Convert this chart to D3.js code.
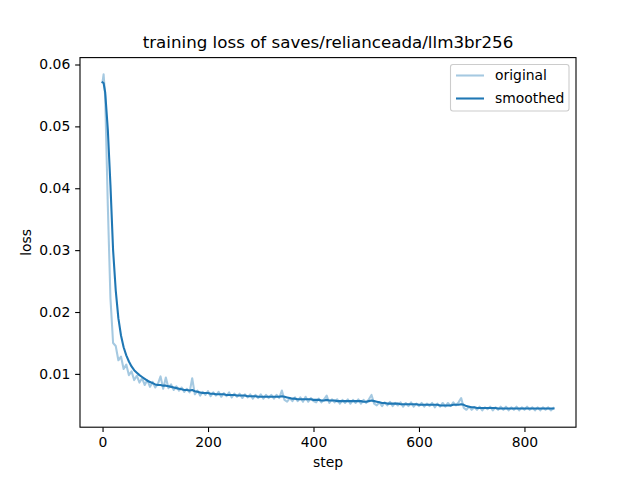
<!DOCTYPE html>
<html>
<head>
<meta charset="utf-8">
<script src="https://cdn.jsdelivr.net/npm/d3@7"></script>
<style>
  html, body { margin: 0; padding: 0; background: #fff; }
  svg { display: block; font-family: "DejaVu Sans", sans-serif; }
</style>
</head>
<body>
<svg id="chart" width="640" height="480"></svg>
<script>
// ---- data ----
const titleText = "training loss of saves/relianceada/llm3br256";
const xLabel = "step";
const yLabel = "loss";
const seriesNames = ["original", "smoothed"];
const xTicks = [0, 200, 400, 600, 800];
const yTicks = [0.01, 0.02, 0.03, 0.04, 0.05, 0.06];

const steps = [0, 2].concat(d3.range(5, 856, 5));

const original = [0.0572, 0.0584,
  0.0548, 0.0372, 0.0222, 0.0150, 0.0145, 0.0122, 0.0128, 0.0108, 0.0115, 0.0098,
  0.0104, 0.0090, 0.0097, 0.0086, 0.0093, 0.0082, 0.0090, 0.0079, 0.0087, 0.0078,
  0.0084, 0.0096, 0.0076, 0.0094, 0.0077, 0.0083, 0.0074, 0.0080, 0.0073, 0.0078,
  0.0071, 0.0076, 0.0070, 0.0093, 0.0067, 0.0073, 0.0065, 0.0071, 0.0066, 0.0072,
  0.0064, 0.0070, 0.0065, 0.0071, 0.0063, 0.0069, 0.0064, 0.0070, 0.0062, 0.0068,
  0.0063, 0.0068, 0.0061, 0.0067, 0.0062, 0.0067, 0.0060, 0.0066, 0.0061, 0.0067,
  0.0060, 0.0066, 0.0061, 0.0066, 0.0060, 0.0066, 0.0061, 0.0073, 0.0058, 0.0055,
  0.0061, 0.0056, 0.0062, 0.0056, 0.0062, 0.0055, 0.0063, 0.0055, 0.0061, 0.0056,
  0.0054, 0.0060, 0.0054, 0.0059, 0.0065, 0.0053, 0.0059, 0.0054, 0.0059, 0.0052,
  0.0058, 0.0053, 0.0059, 0.0052, 0.0058, 0.0053, 0.0059, 0.0052, 0.0058, 0.0053,
  0.0059, 0.0066, 0.0052, 0.0049, 0.0054, 0.0048, 0.0054, 0.0049, 0.0055, 0.0048,
  0.0053, 0.0049, 0.0054, 0.0047, 0.0053, 0.0048, 0.0054, 0.0047, 0.0052, 0.0048,
  0.0053, 0.0047, 0.0052, 0.0048, 0.0053, 0.0046, 0.0052, 0.0047, 0.0053, 0.0047,
  0.0053, 0.0048, 0.0054, 0.0049, 0.0054, 0.0061, 0.0045, 0.0042, 0.0047, 0.0042,
  0.0046, 0.0042, 0.0047, 0.0041, 0.0046, 0.0043, 0.0047, 0.0041, 0.0046, 0.0042,
  0.0047, 0.0042, 0.0047, 0.0041, 0.0046, 0.0042, 0.0047, 0.0041, 0.0046, 0.0042,
  0.0047, 0.0042, 0.0046, 0.0041, 0.0046, 0.0041, 0.0046, 0.0042, 0.0046, 0.0041,
  0.0045];

const smoothed = [0.0571, 0.0570,
  0.0555, 0.0495, 0.0405, 0.0300, 0.0235, 0.0190, 0.0162, 0.0143, 0.0130, 0.0120,
  0.0112, 0.0106, 0.0102, 0.0098, 0.0095, 0.0092, 0.0089, 0.0087, 0.0085, 0.0083,
  0.0082, 0.0082, 0.0081, 0.0081, 0.0080, 0.0079, 0.0078, 0.0077, 0.0076, 0.0075,
  0.0074, 0.0074, 0.0073, 0.0074, 0.0072, 0.0071, 0.0070, 0.0069, 0.0069, 0.0069,
  0.0068, 0.0068, 0.0067, 0.0067, 0.0067, 0.0067, 0.0066, 0.0066, 0.0066, 0.0066,
  0.0065, 0.0065, 0.0065, 0.0065, 0.0064, 0.0064, 0.0064, 0.0064, 0.0063, 0.0063,
  0.0063, 0.0063, 0.0063, 0.0063, 0.0063, 0.0063, 0.0063, 0.0064, 0.0063, 0.0062,
  0.0061, 0.0060, 0.0060, 0.0059, 0.0059, 0.0059, 0.0059, 0.0059, 0.0059, 0.0058,
  0.0058, 0.0058, 0.0057, 0.0057, 0.0058, 0.0057, 0.0057, 0.0057, 0.0056, 0.0056,
  0.0056, 0.0056, 0.0056, 0.0056, 0.0056, 0.0056, 0.0056, 0.0056, 0.0055, 0.0055,
  0.0056, 0.0057, 0.0056, 0.0055, 0.0054, 0.0053, 0.0053, 0.0052, 0.0052, 0.0052,
  0.0052, 0.0052, 0.0051, 0.0051, 0.0051, 0.0051, 0.0051, 0.0051, 0.0051, 0.0050,
  0.0050, 0.0050, 0.0050, 0.0050, 0.0050, 0.0050, 0.0050, 0.0049, 0.0049, 0.0049,
  0.0049, 0.0049, 0.0050, 0.0050, 0.0050, 0.0051, 0.0050, 0.0048, 0.0047, 0.0046,
  0.0046, 0.0045, 0.0045, 0.0045, 0.0045, 0.0045, 0.0045, 0.0045, 0.0045, 0.0044,
  0.0044, 0.0044, 0.0044, 0.0044, 0.0044, 0.0044, 0.0044, 0.0044, 0.0044, 0.0044,
  0.0044, 0.0044, 0.0044, 0.0044, 0.0044, 0.0044, 0.0044, 0.0044, 0.0044, 0.0044,
  0.0044];

// ---- layout ----
const W = 640, H = 480;
const m = { left: 80, right: 576, top: 57.6, bottom: 427.2 };
const color = "#1f77b4";
const tickLen = 4.86, tickPad = 4.86;

const svg = d3.select("#chart");
svg.append("rect").attr("width", W).attr("height", H).attr("fill", "#fff");

const n = Math.min(steps.length, original.length, smoothed.length);
const ptsO = d3.range(n).map(i => [steps[i], original[i]]);
const ptsS = d3.range(n).map(i => [steps[i], smoothed[i]]);

const xExt = d3.extent(steps.slice(0, n));
const xPad = (xExt[1] - xExt[0]) * 0.05;
const allY = original.slice(0, n).concat(smoothed.slice(0, n));
const yExt = d3.extent(allY);
const yPad = (yExt[1] - yExt[0]) * 0.05;

const x = d3.scaleLinear().domain([xExt[0] - xPad, xExt[1] + xPad]).range([m.left, m.right]);
const y = d3.scaleLinear().domain([yExt[0] - yPad, yExt[1] + yPad]).range([m.bottom, m.top]);

const clipId = "plotclip";
svg.append("clipPath").attr("id", clipId).append("rect")
  .attr("x", m.left).attr("y", m.top)
  .attr("width", m.right - m.left).attr("height", m.bottom - m.top);

const line = d3.line().x(d => x(d[0])).y(d => y(d[1]));
const g = svg.append("g").attr("clip-path", `url(#${clipId})`);
g.append("path").datum(ptsO).attr("d", line)
  .attr("fill", "none").attr("stroke", color).attr("stroke-opacity", 0.4)
  .attr("stroke-width", 2.08).attr("stroke-linejoin", "round").attr("stroke-linecap", "square");
g.append("path").datum(ptsS).attr("d", line)
  .attr("fill", "none").attr("stroke", color)
  .attr("stroke-width", 2.08).attr("stroke-linejoin", "round").attr("stroke-linecap", "square");

// axes
const xAxis = d3.axisBottom(x).tickValues(xTicks).tickFormat(d3.format("d"))
  .tickSizeInner(tickLen).tickSizeOuter(0).tickPadding(tickPad);
const yAxis = d3.axisLeft(y).tickValues(yTicks).tickFormat(d3.format(".2f"))
  .tickSizeInner(tickLen).tickSizeOuter(0).tickPadding(tickPad);

const gx = svg.append("g").attr("transform", `translate(0,${m.bottom})`).call(xAxis);
const gy = svg.append("g").attr("transform", `translate(${m.left},0)`).call(yAxis);
[gx, gy].forEach(a => {
  a.select(".domain").remove();
  a.selectAll(".tick line").attr("stroke", "#000").attr("stroke-width", 1.1);
  a.selectAll(".tick text").attr("fill", "#000")
    .style("font-family", "'DejaVu Sans', sans-serif").style("font-size", "13.9px");
});
gx.selectAll(".tick text").attr("dy", "0.72em");

// frame (spines)
svg.append("rect")
  .attr("x", m.left).attr("y", m.top)
  .attr("width", m.right - m.left).attr("height", m.bottom - m.top)
  .attr("fill", "none").attr("stroke", "#000").attr("stroke-width", 1.1);

// title and labels
svg.append("text").attr("x", (m.left + m.right) / 2).attr("y", 48)
  .attr("text-anchor", "middle").style("font-size", "16.7px").attr("fill", "#000")
  .text(titleText);
svg.append("text").attr("x", (m.left + m.right) / 2).attr("y", 467)
  .attr("text-anchor", "middle").style("font-size", "13.9px").attr("fill", "#000")
  .text(xLabel);
svg.append("text").attr("transform", `translate(31,${(m.top + m.bottom) / 2}) rotate(-90)`)
  .attr("text-anchor", "middle").style("font-size", "13.9px").attr("fill", "#000")
  .text(yLabel);

// legend
const lg = svg.append("g");
const lx = 450.5, ly = 64.5, lw = 118.5, lh = 46.5;
lg.append("rect").attr("x", lx).attr("y", ly).attr("width", lw).attr("height", lh)
  .attr("rx", 2.5).attr("fill", "#fff").attr("fill-opacity", 0.8)
  .attr("stroke", "#cccccc").attr("stroke-width", 1.1);
const rowsY = [75.5, 98.5];
seriesNames.forEach((name, i) => {
  lg.append("line").attr("x1", 456).attr("x2", 484)
    .attr("y1", rowsY[i]).attr("y2", rowsY[i])
    .attr("stroke", color).attr("stroke-width", 2.08)
    .attr("stroke-opacity", i === 0 ? 0.4 : 1);
  lg.append("text").attr("x", 495).attr("y", rowsY[i]).attr("dy", "0.35em")
    .style("font-size", "13.9px").attr("fill", "#000").text(name);
});
</script>
</body>
</html>
